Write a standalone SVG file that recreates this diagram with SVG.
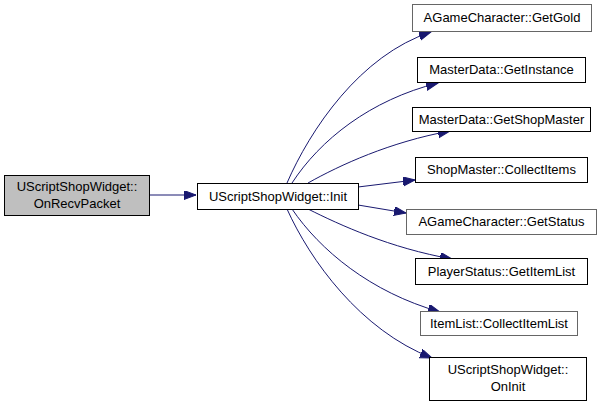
<svg xmlns="http://www.w3.org/2000/svg" width="601" height="407" viewBox="0 0 601 407">
<defs>
<style>
.n rect{fill:#fff;stroke:#000;stroke-width:1}
.n.g rect{stroke:#666}
.n.cur rect{fill:#bfbfbf;stroke:#000}
text{font-family:"Liberation Sans",Arial,sans-serif;font-size:13px;fill:#000;text-anchor:middle}
.e path{fill:none;stroke:#191970;stroke-width:1;marker-end:url(#ah)}
</style>
<marker id="ah" markerUnits="userSpaceOnUse" markerWidth="13" markerHeight="11" refX="12" refY="4.5" orient="auto">
<path d="M0,0 L12,4.5 L0,9 Z" fill="#191970" stroke="#191970"/>
</marker>
</defs>
<rect width="601" height="407" fill="#fff"/>
<g id="edges" class="e">
<path d="M149,195 L196,195"/>
<path d="M287,183 C310,130 360,55 431,32"/>
<path d="M292,183 C320,140 370,100 438,83"/>
<path d="M308,183 C340,165 390,142 450,131"/>
<path d="M358,187 L415,180"/>
<path d="M358,205 L406,213"/>
<path d="M308,209 C340,225 390,248 452,259"/>
<path d="M292,209 C320,250 370,292 440,312"/>
<path d="M287,209 C310,260 360,330 432,358"/>
</g>
<g id="OnRecvPacket" class="n cur"><rect x="4.5" y="175.5" width="145" height="40"/><text x="77" y="191">UScriptShopWidget::</text><text x="77" y="208">OnRecvPacket</text></g>
<g id="Init" class="n"><rect x="197.5" y="183.5" width="161" height="26"/><text x="278" y="201">UScriptShopWidget::Init</text></g>
<g id="GetGold" class="n g"><rect x="412.5" y="4.5" width="179" height="27"/><text x="502" y="22">AGameCharacter::GetGold</text></g>
<g id="GetInstance" class="n"><rect x="417.5" y="57.5" width="168" height="25"/><text x="501.5" y="74">MasterData::GetInstance</text></g>
<g id="GetShopMaster" class="n"><rect x="412.5" y="107.5" width="178" height="24"/><text x="501.5" y="124">MasterData::GetShopMaster</text></g>
<g id="CollectItems" class="n"><rect x="415.5" y="157.5" width="172" height="25"/><text x="501.5" y="174">ShopMaster::CollectItems</text></g>
<g id="GetStatus" class="n g"><rect x="406.5" y="209.5" width="190" height="25"/><text x="501.5" y="226">AGameCharacter::GetStatus</text></g>
<g id="GetItemList" class="n"><rect x="415.5" y="258.5" width="172" height="26"/><text x="501.5" y="276">PlayerStatus::GetItemList</text></g>
<g id="CollectItemList" class="n g"><rect x="420.5" y="311.5" width="157" height="24"/><text x="499" y="328">ItemList::CollectItemList</text></g>
<g id="OnInit" class="n"><rect x="429.5" y="357.5" width="157" height="43"/><text x="508" y="374">UScriptShopWidget::</text><text x="508" y="391">OnInit</text></g>
</svg>
